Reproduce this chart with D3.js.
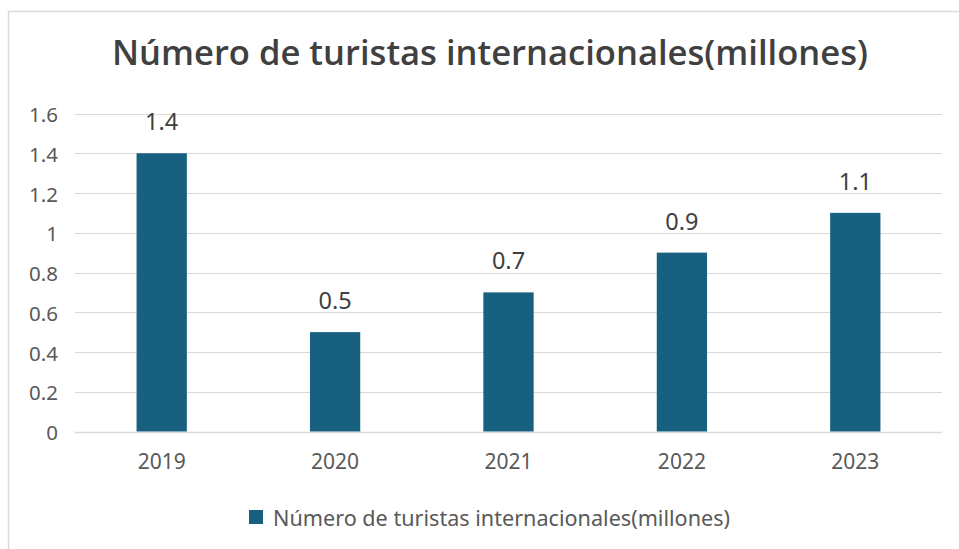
<!DOCTYPE html>
<html>
<head>
<meta charset="utf-8">
<script src="https://cdn.jsdelivr.net/npm/d3@7"></script>
<style>
  body { margin: 0; background: #fff; }
  svg { display: block; }
</style>
</head>
<body>
<div id="chart"></div>
<script>
// data
const years = ["2019", "2020", "2021", "2022", "2023"];
const tourists = [1.4, 0.5, 0.7, 0.9, 1.1];
const yTicks = [0, 0.2, 0.4, 0.6, 0.8, 1, 1.2, 1.4, 1.6];
const titleText = "Número de turistas internacionales(millones)";
const seriesName = "Número de turistas internacionales(millones)";

const width = 959, height = 549;
const margin = { top: 113.5, right: 17, bottom: 117.5, left: 75 };
const barColor = "#17607f";

const svg = d3.select("#chart").append("svg")
  .attr("width", width)
  .attr("height", height);

// frame (only top and left edges show in the picture)
svg.append("rect")
  .attr("x", 8.5).attr("y", 11.5)
  .attr("width", width + 20).attr("height", height + 20)
  .attr("fill", "#fff")
  .attr("stroke", "#d9d9d9")
  .attr("stroke-width", 1.5);

const x = d3.scaleBand()
  .domain(years)
  .range([margin.left, width - margin.right])
  .paddingInner(0.71)
  .paddingOuter(0.355);

const y = d3.scaleLinear()
  .domain([0, 1.6])
  .range([height - margin.bottom, margin.top]);

// title
svg.append("text")
  .attr("x", 112)
  .attr("y", 65)
  .attr("textLength", 756)
  .attr("lengthAdjust", "spacingAndGlyphs")
  .style("font-family", "'Open Sans', sans-serif")
  .style("font-weight", "600")
  .style("font-size", "34px")
  .style("fill", "#404040")
  .text(titleText);

// gridlines
svg.append("g")
  .selectAll("line")
  .data(yTicks)
  .join("line")
  .attr("x1", margin.left)
  .attr("x2", width - margin.right)
  .attr("y1", d => Math.round(y(d)) + 0.5)
  .attr("y2", d => Math.round(y(d)) + 0.5)
  .attr("stroke", "#d9d9d9")
  .attr("stroke-width", d => d === 0 ? 1.5 : 1.2);

// y axis labels
const yAxis = svg.append("g")
  .attr("transform", `translate(58,0)`)
  .call(d3.axisLeft(y).tickValues(yTicks).tickSize(0).tickPadding(0).tickFormat(d3.format("")));
yAxis.select(".domain").remove();
yAxis.selectAll("text")
  .attr("dy", "0.4em")
  .style("font-family", "'Noto Sans', sans-serif")
  .style("font-size", "20.5px")
  .style("fill", "#595959");

// x axis labels
const xAxis = svg.append("g")
  .attr("transform", `translate(0,469)`)
  .call(d3.axisBottom(x).tickSize(0).tickPadding(0));
xAxis.select(".domain").remove();
xAxis.selectAll("text")
  .attr("dy", 0)
  .style("font-family", "'Noto Sans', sans-serif")
  .style("font-size", "21px")
  .style("fill", "#595959");

// bars
svg.append("g")
  .selectAll("rect")
  .data(years)
  .join("rect")
  .attr("x", d => x(d))
  .attr("y", (d, i) => y(tourists[i]))
  .attr("width", x.bandwidth())
  .attr("height", (d, i) => y(0) - y(tourists[i]))
  .attr("fill", barColor);

// value labels
svg.append("g")
  .selectAll("text")
  .data(years)
  .join("text")
  .attr("x", d => x(d) + x.bandwidth() / 2)
  .attr("y", (d, i) => y(tourists[i]) - 23)
  .attr("text-anchor", "middle")
  .style("font-family", "'Noto Sans', sans-serif")
  .style("font-size", "23.5px")
  .style("fill", "#404040")
  .text((d, i) => d3.format("")(tourists[i]));

// legend
const legend = svg.append("g");
legend.append("rect")
  .attr("x", 249).attr("y", 510)
  .attr("width", 14).attr("height", 14)
  .attr("fill", barColor);
legend.append("text")
  .attr("x", 273)
  .attr("y", 526)
  .attr("textLength", 457)
  .attr("lengthAdjust", "spacingAndGlyphs")
  .style("font-family", "'Noto Sans', sans-serif")
  .style("font-size", "21px")
  .style("fill", "#595959")
  .text(seriesName);
</script>
</body>
</html>
